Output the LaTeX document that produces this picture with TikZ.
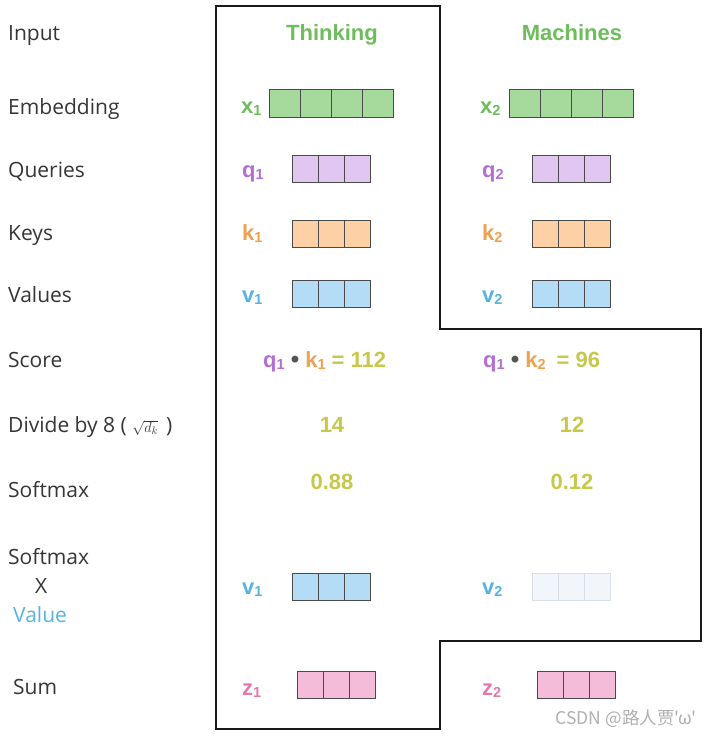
\documentclass[tikz,border=0pt]{standalone}
\usepackage{fontspec}
\setmainfont{Open Sans}
\newfontfamily\hv{Liberation Sans}
\newfontfamily\cjk{Noto Sans CJK SC}
\definecolor{labgray}{HTML}{363636}
\definecolor{gtxt}{HTML}{6DBD5B}
\definecolor{gfill}{HTML}{A6DA9C}
\definecolor{ptxt}{HTML}{B46FD4}
\definecolor{pfill}{HTML}{E2C6F2}
\definecolor{otxt}{HTML}{F0A04F}
\definecolor{ofill}{HTML}{FDD1A5}
\definecolor{btxt}{HTML}{58B2E2}
\definecolor{bfill}{HTML}{B5DCF6}
\definecolor{ztxt}{HTML}{E07AAA}
\definecolor{zfill}{HTML}{F5BCDA}
\definecolor{numc}{HTML}{C6C84A}
\definecolor{bulc}{HTML}{555555}
\definecolor{celline}{HTML}{4A4A4A}
\definecolor{fadefill}{HTML}{F2F6FA}
\definecolor{fadeline}{HTML}{D8DFE6}
\definecolor{wmark}{HTML}{B0B0B0}
\newcommand{\sbs}[1]{\raisebox{-2pt}{\fontsize{14.5}{14.5}\selectfont #1}}
\newcommand{\cellrow}[7]{%
  \foreach \i in {1,...,#4}{%
    \node[cell,#7,minimum width=#5pt,minimum height=#6pt,anchor=north west] (#1-\i) at ({#2+(\i-1)*#5},#3) {};
  }}
\begin{document}
\begin{tikzpicture}[x=1pt,y=-1pt,
  rowlab/.style={anchor=base west,inner sep=0,text=labgray,font=\fontsize{21}{25}\selectfont},
  word/.style={inner sep=0,font=\hv\bfseries\fontsize{22}{26}\selectfont},
  tag/.style={word,anchor=base west},
  cell/.style={draw=celline,line width=1.1pt,inner sep=0},
  faded/.style={draw=fadeline,fill=fadefill},
  outline/.style={draw=black!90,line width=1.3pt}]
\useasboundingbox (0,0) rectangle (710,737);
\fill[white] (0,0) rectangle (710,737);

% outline
\coordinate (o1) at (216,6);
\coordinate (o2) at (440,6);
\coordinate (o3) at (440,329);
\coordinate (o4) at (701,329);
\coordinate (o5) at (701,641);
\coordinate (o6) at (440,641);
\coordinate (o7) at (440,729);
\coordinate (o8) at (216,729);
\draw[outline] (o1) -- (o2) -- (o3) -- (o4) -- (o5) -- (o6) -- (o7) -- (o8) -- cycle;

% row labels
\node[rowlab] (lInput) at (8,40) {Input};
\node[rowlab] (lEmb) at (8,114) {Embedding};
\node[rowlab] (lQ) at (8,177) {Queries};
\node[rowlab] (lK) at (8,240) {Keys};
\node[rowlab] (lV) at (8,302) {Values};
\node[rowlab] (lScore) at (8,367) {Score};
\node[rowlab] (lDiv) at (8,432) {Divide by 8 ( {\fontsize{15.5}{15.5}\selectfont$\sqrt{d_k}$}\hspace{8pt})};
\node[rowlab] (lSm) at (8,497) {Softmax};
\node[rowlab] (lSm2) at (8,564) {Softmax};
\node[rowlab] (lX) at (35,593) {X};
\node[rowlab,text=btxt] (lVal) at (13,622) {Value};
\node[rowlab] (lSum) at (13,694) {Sum};

% input words
\node[word,anchor=base,text=gtxt] (w1) at (332,40) {Thinking};
\node[word,anchor=base,text=gtxt] (w2) at (572,40) {Machines};

% embeddings
\node[tag,text=gtxt] (tx1) at (241,113) {x\sbs{1}};
\node[tag,text=gtxt] (tx2) at (480,113) {x\sbs{2}};
\cellrow{e1}{269}{89}{4}{31}{28}{fill=gfill}
\cellrow{e2}{509}{89}{4}{31}{28}{fill=gfill}

% queries
\node[tag,text=ptxt] (tq1) at (242,177) {q\sbs{1}};
\node[tag,text=ptxt] (tq2) at (482,177) {q\sbs{2}};
\cellrow{q1}{292}{155}{3}{26}{27}{fill=pfill}
\cellrow{q2}{532}{155}{3}{26}{27}{fill=pfill}

% keys
\node[tag,text=otxt] (tk1) at (242,240) {k\sbs{1}};
\node[tag,text=otxt] (tk2) at (482,240) {k\sbs{2}};
\cellrow{k1}{292}{220}{3}{26}{27}{fill=ofill}
\cellrow{k2}{532}{220}{3}{26}{27}{fill=ofill}

% values
\node[tag,text=btxt] (tv1) at (242,302) {v\sbs{1}};
\node[tag,text=btxt] (tv2) at (482,302) {v\sbs{2}};
\cellrow{v1}{292}{280}{3}{26}{27}{fill=bfill}
\cellrow{v2}{532}{280}{3}{26}{27}{fill=bfill}

% score
\node[tag] (s1) at (263,367) {\textcolor{ptxt}{q\sbs{1}} \textcolor{bulc}{\fontsize{24}{24}\selectfont•} \textcolor{otxt}{k\sbs{1}} \textcolor{numc}{= 112}};
\node[tag] (s2) at (483,367) {\textcolor{ptxt}{q\sbs{1}} \textcolor{bulc}{\fontsize{24}{24}\selectfont•} \textcolor{otxt}{k\sbs{2}}\hspace{5pt} \textcolor{numc}{= 96}};

% divide
\node[word,anchor=base,text=numc] (d1) at (332,432) {14};
\node[word,anchor=base,text=numc] (d2) at (572,432) {12};

% softmax
\node[word,anchor=base,text=numc] (m1) at (332,489) {0.88};
\node[word,anchor=base,text=numc] (m2) at (572,489) {0.12};

% softmax x value
\node[tag,text=btxt] (sv1t) at (242,594) {v\sbs{1}};
\node[tag,text=btxt] (sv2t) at (482,594) {v\sbs{2}};
\cellrow{sv1}{292}{573}{3}{26}{27}{fill=bfill}
\cellrow{sv2}{532}{573}{3}{26}{27}{faded}

% sum
\node[tag,text=ztxt] (tz1) at (242,695) {z\sbs{1}};
\node[tag,text=ztxt] (tz2) at (482,695) {z\sbs{2}};
\cellrow{z1}{296.5}{671}{3}{26}{27}{fill=zfill}
\cellrow{z2}{536.5}{671}{3}{26}{27}{fill=zfill}

% watermark
\node[anchor=base east,inner sep=0,text=wmark,font=\cjk\fontsize{17.5}{19}\selectfont] (wm) at (697,724) {CSDN @路人贾'ω'};
\end{tikzpicture}
\end{document}
